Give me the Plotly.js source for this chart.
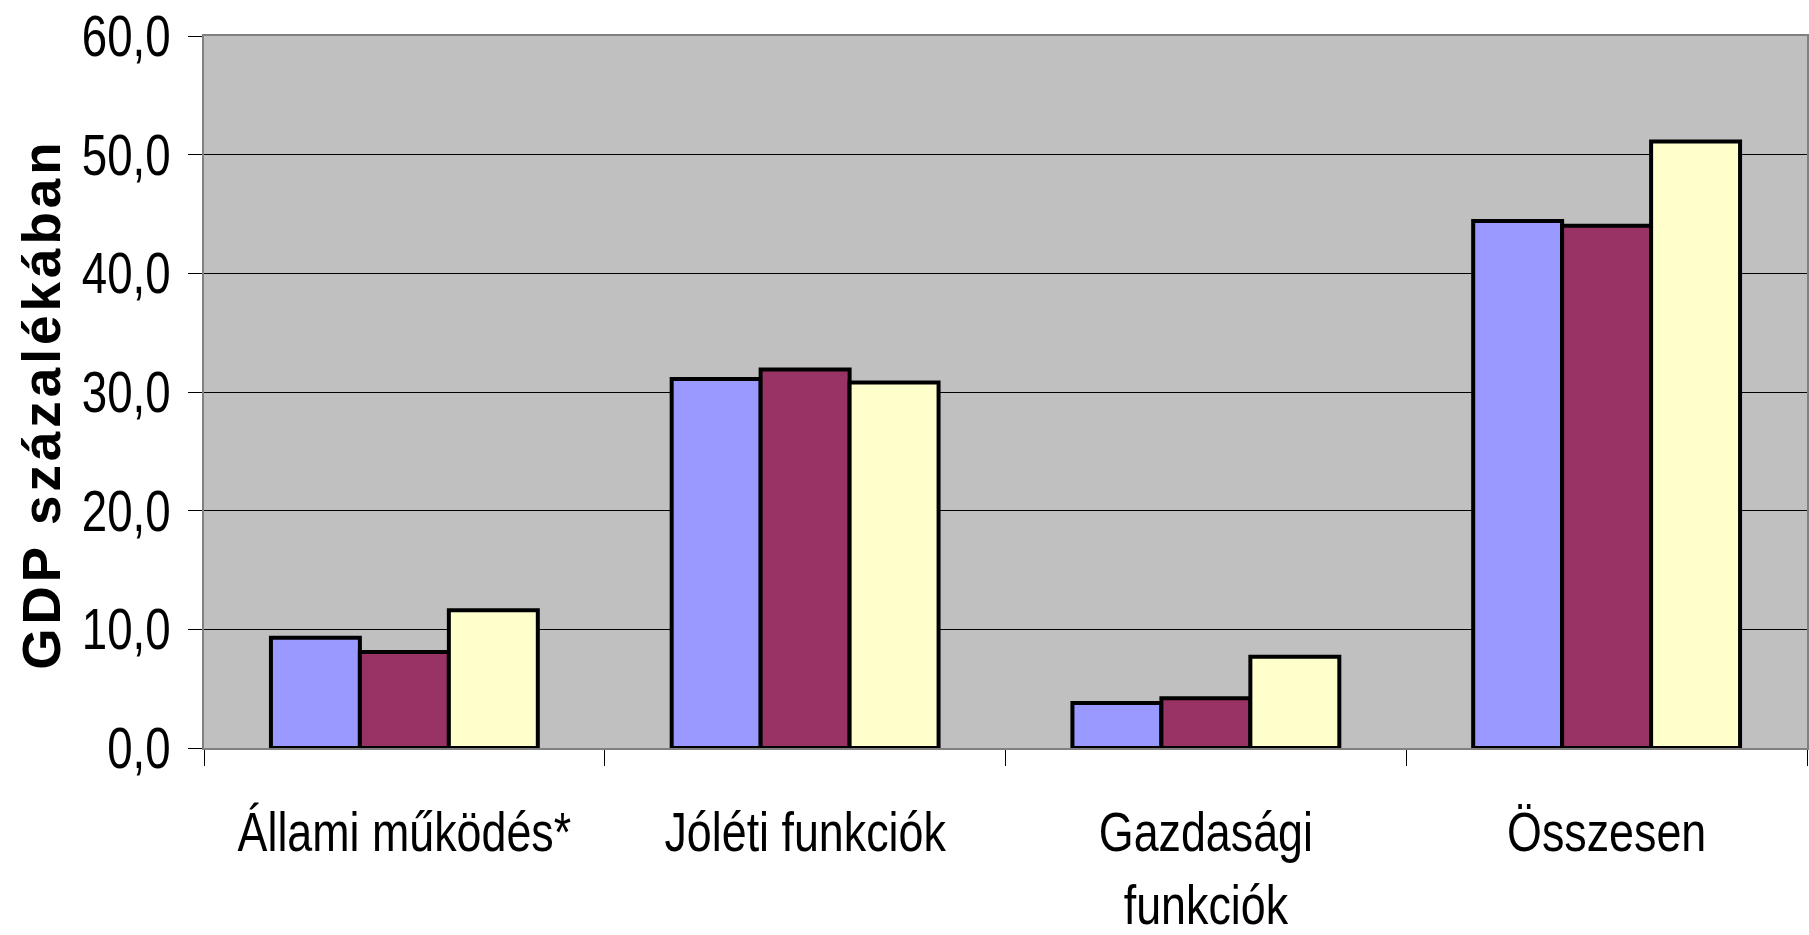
<!DOCTYPE html>
<html>
<head>
<meta charset="utf-8">
<script src="https://cdn.plot.ly/plotly-3.0.1.min.js"></script>
<style>
  html, body { margin: 0; padding: 0; background: #fff; }
  #chart { width: 1809px; height: 935px; }
  .ytitle { letter-spacing: 4px; }
</style>
</head>
<body>
<div id="chart"></div>
<script>
// kategóriák és a három sorozat (GDP %-ában)
const categories = ['Állami működés*', 'Jóléti funkciók', 'Gazdasági<br>funkciók', 'Összesen'];
const series1 = [9.3, 31.1, 3.8, 44.4];
const series2 = [8.1, 31.9, 4.2, 44.0];
const series3 = [11.6, 30.8, 7.7, 51.1];
const seriesNames = ['1. sorozat', '2. sorozat', '3. sorozat'];
const colors = ['#9999FF', '#993366', '#FFFFCC'];

const arial = '"Liberation Sans", Arial, sans-serif';

const traces = [series1, series2, series3].map((vals, i) => ({
  type: 'bar',
  x: categories,
  y: vals,
  name: seriesNames[i],
  marker: { color: colors[i], line: { color: '#000', width: 4 } },
  hoverinfo: 'x+y'
}));

// Arial Narrow nincs, ezért a feliratokat vízszintesen összenyomjuk
function squeeze(sel, f) {
  document.querySelectorAll(sel).forEach(t => {
    const lines = t.querySelectorAll('tspan.line');
    const parts = lines.length ? Array.from(lines) : [t];
    parts.forEach(p => {
      const w = p.getComputedTextLength();
      p.setAttribute('textLength', (w * f).toFixed(1));
      p.setAttribute('lengthAdjust', 'spacingAndGlyphs');
    });
  });
}

Plotly.newPlot('chart', traces, {
  width: 1809,
  height: 935,
  margin: { l: 204, r: 2, t: 36, b: 187 },
  paper_bgcolor: '#fff',
  plot_bgcolor: '#C0C0C0',
  showlegend: false,
  barmode: 'group',
  bargap: 0.334,
  bargroupgap: 0,
  separators: ', ',
  xaxis: {
    type: 'category',
    tickson: 'boundaries',
    ticks: 'outside',
    ticklen: 16,
    tickcolor: '#000',
    tickwidth: 1,
    tickangle: 0,
    showgrid: false,
    showline: true,
    linecolor: '#808080',
    linewidth: 2,
    mirror: true,
    tickfont: { family: arial, size: 56, color: '#000' },
    ticklabelstandoff: 34
  },
  yaxis: {
    range: [0, 60],
    dtick: 10,
    tickformat: '.1f',
    ticks: 'outside',
    ticklen: 14,
    tickcolor: '#000',
    showgrid: true,
    gridcolor: '#000',
    gridwidth: 1,
    zeroline: false,
    showline: true,
    linecolor: '#808080',
    linewidth: 2,
    mirror: true,
    tickfont: { family: arial, size: 57, color: '#000' },
    ticklabelstandoff: 6,
    title: {
      text: 'GDP százalékában',
      font: { family: arial, size: 53, color: '#000', weight: 'bold' },
      standoff: 2
    },
    automargin: false
  }
}, { displayModeBar: false, staticPlot: true }).then(() => {
  squeeze('.xtick text', 0.8);
  squeeze('.ytick text', 0.8);
  // a függőleges cím kicsit jobbra és lejjebb áll az eredetin
  const yt = document.querySelector('.ytitle');
  if (yt) { yt.setAttribute('dx', '-12'); yt.setAttribute('dy', '12'); }
});
</script>
</body>
</html>
